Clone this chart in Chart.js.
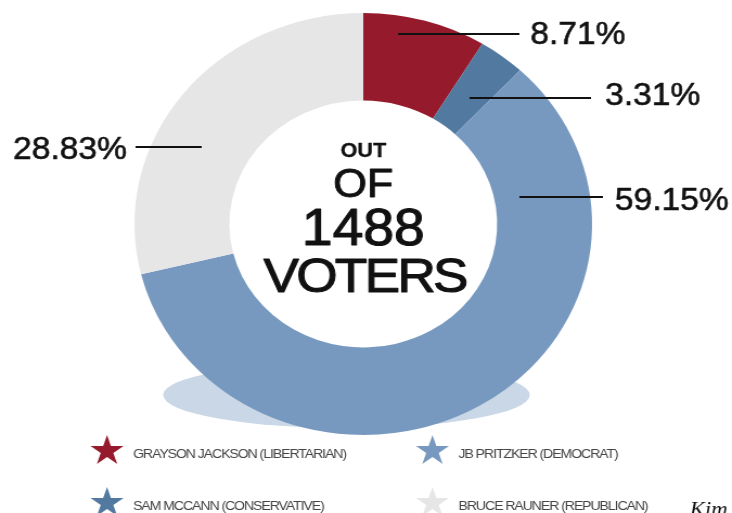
<!DOCTYPE html>
<html>
<head>
<meta charset="utf-8">
<script src="https://cdn.jsdelivr.net/npm/chart.js@4.4.0/dist/chart.umd.min.js"></script>
<style>
  html, body { margin: 0; padding: 0; background: #fff; overflow: hidden; }
  #wrap { position: absolute; left: 0; top: 0; width: 675px; height: 513px;
          transform: scaleX(1.0844); transform-origin: 0 0; }
</style>
</head>
<body>
<div id="wrap"><canvas id="c" width="675" height="513"></canvas></div>
<script>
// candidates, in the order the slices go round from 12 o'clock
var candidates = [
    "GRAYSON JACKSON (LIBERTARIAN)",
    "SAM MCCANN (CONSERVATIVE)",
    "JB PRITZKER (DEMOCRAT)",
    "BRUCE RAUNER (REPUBLICAN)"
];
var shares = [8.71, 3.31, 59.15, 28.83];
var totalVoters = 1488;
var centerWords = ["OUT", "OF", String(totalVoters), "VOTERS"];

var colors = ['#951b2c', '#52799f', '#7899bf', '#e6e6e6'];

// where the leader lines and % labels sit (canvas px, before the x stretch)
var leaderLines = [[367, 479, 34], [433, 545, 98], [479, 556, 197], [125, 186, 147]];
var labelPos = [[489, 33], [558, 94], [567, 199], [12, 148]];

var shadowPlugin = {
    id: 'shadow',
    beforeDatasetsDraw: function(chart) {
        var arc = chart.getDatasetMeta(0).data[0];
        var ctx = chart.ctx;
        ctx.save();
        ctx.fillStyle = '#c9d7e7';
        ctx.beginPath();
        ctx.ellipse(arc.x - 15.5, arc.y + 171, 169, 33, 0, 0, Math.PI * 2);
        ctx.fill();
        ctx.restore();
    }
};

function star(ctx, cx, cy, R) {
    var r = R * 0.382;
    ctx.beginPath();
    for (var i = 0; i < 10; i++) {
        var a = -Math.PI / 2 + i * Math.PI / 5;
        var rr = (i % 2 === 0) ? R : r;
        var px = cx + rr * Math.cos(a), py = cy + rr * Math.sin(a);
        if (i === 0) ctx.moveTo(px, py); else ctx.lineTo(px, py);
    }
    ctx.closePath();
    ctx.fill();
}

// fill + thin stroke, to get a medium weight out of Liberation Sans
function heavyText(ctx, txt, x, y, w) {
    ctx.fillText(txt, x, y);
    ctx.lineWidth = w;
    ctx.strokeText(txt, x, y);
}

var labelPlugin = {
    id: 'labels',
    afterDraw: function(chart) {
        var ctx = chart.ctx;
        var arc = chart.getDatasetMeta(0).data[0];
        var data = chart.data.datasets[0].data;
        ctx.save();

        // leader lines + percentages
        ctx.strokeStyle = '#111';
        ctx.fillStyle = '#111';
        ctx.font = '31px "Liberation Sans", Arial, sans-serif';
        ctx.textAlign = 'left';
        ctx.textBaseline = 'alphabetic';
        ctx.lineJoin = 'round';
        for (var i = 0; i < data.length; i++) {
            var l = leaderLines[i];
            ctx.lineWidth = 2;
            ctx.beginPath();
            ctx.moveTo(l[0], l[2]);
            ctx.lineTo(l[1], l[2]);
            ctx.stroke();
            heavyText(ctx, data[i].toFixed(2) + '%', labelPos[i][0], labelPos[i][1] + 11, 0.6);
        }

        // words in the hole
        var cx = arc.x;
        var lines = [
            {font: 'bold 20px', y: 150, sp: 0, w: 0.3},
            {font: '40px', y: 182.5, sp: 0, w: 0.9},
            {font: '51px', y: 227, sp: 0, w: 1.1},
            {font: '49px', y: 274, sp: -2.5, w: 1.1}
        ];
        ctx.textAlign = 'center';
        for (var j = 0; j < lines.length; j++) {
            var size = parseFloat(lines[j].font.replace('bold ', ''));
            ctx.font = lines[j].font + ' "Liberation Sans", Arial, sans-serif';
            ctx.letterSpacing = lines[j].sp + 'px';
            heavyText(ctx, centerWords[j], cx - lines[j].sp / 2, lines[j].y + size * 0.358, lines[j].w);
        }
        ctx.letterSpacing = '0px';

        // legend with stars, two columns
        ctx.textAlign = 'left';
        ctx.font = '13px "Liberation Sans", Arial, sans-serif';
        ctx.letterSpacing = '-1px';
        var cols = [98.7, 398.8], rows = [451, 503];
        for (var k = 0; k < candidates.length; k++) {
            var col = Math.floor(k / 2), row = k % 2;
            ctx.fillStyle = chart.data.datasets[0].backgroundColor[k];
            star(ctx, cols[col], rows[row], 16);
            ctx.fillStyle = '#444';
            ctx.fillText(chart.data.labels[k], cols[col] + 24, rows[row] + 6.5);
        }
        ctx.letterSpacing = '0px';

        // credit, cut off by the bottom edge
        ctx.fillStyle = '#111';
        ctx.font = 'italic 21px "Liberation Serif", "Times New Roman", serif';
        ctx.fillText('Kim', 636, 516);
        ctx.restore();
    }
};

var chart = new Chart(document.getElementById('c').getContext('2d'), {
    type: 'doughnut',
    data: {
        labels: candidates,
        datasets: [{
            data: shares,
            backgroundColor: colors,
            borderWidth: 0
        }]
    },
    options: {
        responsive: false,
        animation: false,
        events: [],
        cutout: '58.5%',
        layout: { padding: { left: 124, right: 129, top: 13, bottom: 78 } },
        plugins: {
            legend: { display: false },
            tooltip: { enabled: false }
        }
    },
    plugins: [shadowPlugin, labelPlugin]
});
</script>
</body>
</html>
